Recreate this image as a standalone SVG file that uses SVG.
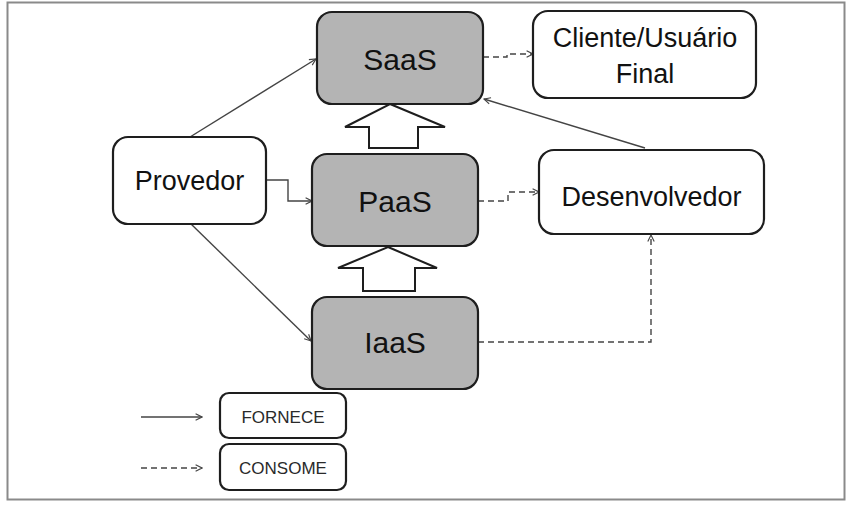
<svg xmlns="http://www.w3.org/2000/svg" width="856" height="508" viewBox="0 0 856 508">
<style>
.node{stroke:#1e1e1e;stroke-width:2.2}
.svc{fill:#b4b4b4}
.act{fill:#ffffff}
.t{font-family:"Liberation Sans",Arial,sans-serif;fill:#111;text-anchor:middle}
.big{font-size:30px}
.mid{font-size:27px}
.sm{font-size:17px;fill:#2a2a2a}
.solid{fill:none;stroke:#444;stroke-width:1.4}
.dash{fill:none;stroke:#444;stroke-width:1.4;stroke-dasharray:6 4}
.blk{fill:#fff;stroke:#1e1e1e;stroke-width:2}
</style>
<defs>
<marker id="ah" viewBox="0 0 10 10" refX="9" refY="5" markerWidth="8" markerHeight="8" markerUnits="userSpaceOnUse" orient="auto">
<path d="M1,1 L9,5 L1,9" fill="none" stroke="#444" stroke-width="1.4"/>
</marker>
</defs>
<rect x="7.5" y="2.5" width="837" height="497" fill="#fff" stroke="#8a8a8a" stroke-width="2"/>
<g id="connectors">
<path class="solid" d="M190,137 L316,59" marker-end="url(#ah)"/>
<path class="solid" d="M266,180 L288,180 L288,201 L312,201" marker-end="url(#ah)"/>
<path class="solid" d="M190,223 L311,341" marker-end="url(#ah)"/>
<path class="solid" d="M645,148 L484,99" marker-end="url(#ah)"/>
<path class="dash" d="M483,57 L507,57 L507,54 L533,54" marker-end="url(#ah)"/>
<path class="dash" d="M478,201 L508,201 L508,192 L539,192" marker-end="url(#ah)"/>
<path class="dash" d="M478,342 L651,342 L651,235" marker-end="url(#ah)"/>
<path class="blk" d="M390,104 L445,127 L418,127 L418,148 L369,148 L369,127 L345,127 Z"/>
<path class="blk" d="M388,247 L437,268 L415,268 L415,291 L363,291 L363,268 L338,268 Z"/>
<path class="solid" d="M141,417 L202,417" marker-end="url(#ah)"/>
<path class="dash" d="M141,468 L202,468" stroke-dasharray="4 3" marker-end="url(#ah)"/>
</g>
<g id="saas">
<rect class="node svc" x="317" y="12" width="166" height="92" rx="15"/>
<text class="t big" x="400" y="70">SaaS</text>
</g>
<g id="cliente">
<rect class="node act" x="533" y="11" width="223" height="87" rx="15"/>
<text class="t mid" x="645" y="47">Cliente/Usuário</text>
<text class="t mid" x="645" y="83">Final</text>
</g>
<g id="provedor">
<rect class="node act" x="113" y="137" width="153" height="87" rx="15"/>
<text class="t mid" x="189.5" y="190">Provedor</text>
</g>
<g id="paas">
<rect class="node svc" x="312" y="154" width="166" height="92" rx="15"/>
<text class="t big" x="395" y="212">PaaS</text>
</g>
<g id="desenvolvedor">
<rect class="node act" x="539" y="150" width="225" height="84" rx="15"/>
<text class="t mid" x="651.5" y="206">Desenvolvedor</text>
</g>
<g id="iaas">
<rect class="node svc" x="312" y="297" width="166" height="92" rx="15"/>
<text class="t big" x="395" y="353">IaaS</text>
</g>
<g id="fornece">
<rect class="node act" x="220" y="393" width="126" height="45" rx="9" stroke-width="2"/>
<text class="t sm" x="283" y="423">FORNECE</text>
</g>
<g id="consome">
<rect class="node act" x="220" y="444" width="126" height="46" rx="9" stroke-width="2"/>
<text class="t sm" x="283" y="474">CONSOME</text>
</g>
</svg>
